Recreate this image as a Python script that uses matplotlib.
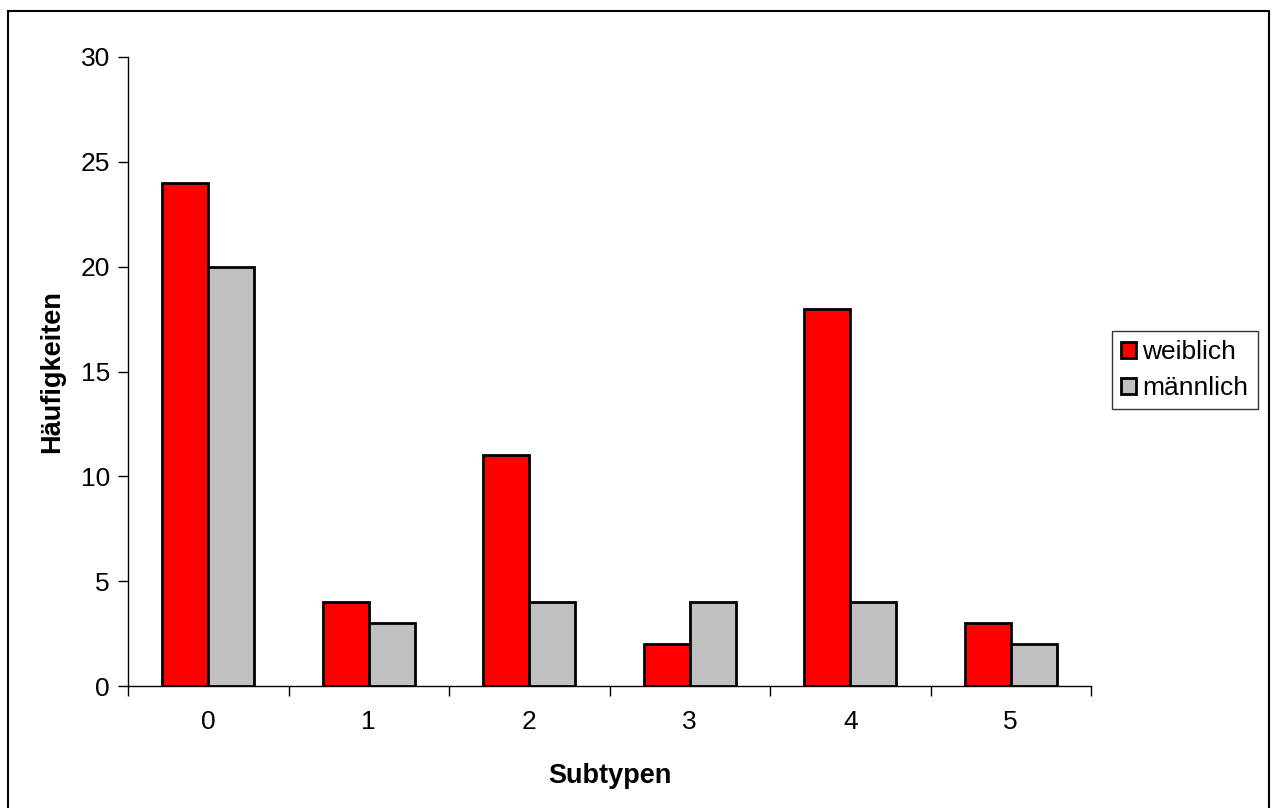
import numpy as np
import matplotlib.pyplot as plt
from matplotlib.patches import Rectangle

plt.rcParams["font.family"] = ["Liberation Sans", "DejaVu Sans"]

subtypen = ["0", "1", "2", "3", "4", "5"]
weiblich = [24, 4, 11, 2, 18, 3]
maennlich = [20, 3, 4, 4, 4, 2]

fig = plt.figure(figsize=(12.72, 8.08), dpi=100)
ax = fig.add_axes([128 / 1272, 1 - 686 / 808, 963 / 1272, 629 / 808])

# frame around the whole chart area
fig.patches.append(Rectangle((8 / 1272, -0.01), 1261 / 1272, 1 - 11 / 808 + 0.01,
                             transform=fig.transFigure, fill=False,
                             edgecolor="black", linewidth=1.5))

x = np.arange(len(subtypen))
w = 0.287
ax.bar(x - w / 2, weiblich, w, color="#ff0000", edgecolor="black", linewidth=2,
       label="weiblich", zorder=3)
ax.bar(x + w / 2, maennlich, w, color="#c0c0c0", edgecolor="black", linewidth=2,
       label="männlich", zorder=3)

ax.set_xlim(-0.5, 5.5)
ax.set_ylim(0, 30)
ax.set_yticks(range(0, 31, 5))
ax.tick_params(axis="y", labelsize=19, length=7, width=1, direction="out", pad=6)

# ticks sit between categories, labels at the centres
ax.set_xticks(np.arange(-0.5, 6, 1))
ax.set_xticklabels([])
ax.set_xticks(x, minor=True)
ax.set_xticklabels(subtypen, minor=True, fontsize=19)
ax.tick_params(axis="x", which="major", length=7, width=1, direction="out")
ax.tick_params(axis="x", which="minor", length=0, pad=17)

for s in ["top", "right"]:
    ax.spines[s].set_visible(False)
for s in ["left", "bottom"]:
    ax.spines[s].set_linewidth(1)

ax.set_xlabel("Subtypen", fontsize=19.5, fontweight="bold", labelpad=21)
ax.set_ylabel("Häufigkeiten", fontsize=19.5, fontweight="bold", labelpad=11)

leg = ax.legend(loc="center left", bbox_to_anchor=(1.022, 0.502), fontsize=19,
                frameon=True, fancybox=False, edgecolor="black",
                handlelength=0.55, handleheight=0.55, handletextpad=0.25,
                borderpad=0.35, labelspacing=0.45, borderaxespad=0)
leg.get_frame().set_linewidth(1)
for h in leg.legend_handles:
    h.set_linewidth(2)

fig.savefig("out.png", dpi=100)
